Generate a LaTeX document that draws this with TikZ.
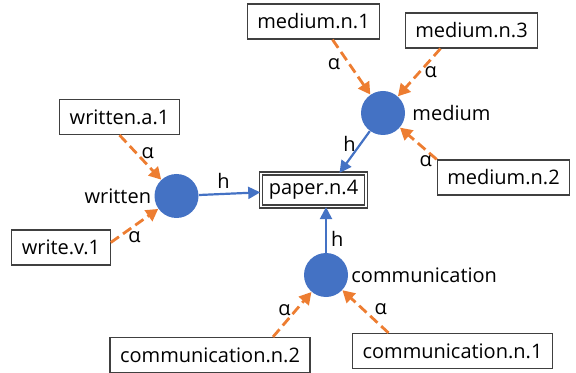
\documentclass[tikz,border=0pt]{standalone}
\usepackage{fontspec}
\setmainfont{Open Sans}
\usetikzlibrary{arrows.meta, positioning}
\definecolor{conceptColor}{RGB}{68,114,196}
\definecolor{alphaColor}{RGB}{237,125,49}
\tikzset{sense/.style={draw=black!75, line width=0.6pt, fill=white, inner xsep=5pt, inner ysep=0pt, minimum height=17.5pt}}
\tikzset{target/.style={sense, double, double distance=0.9pt, inner xsep=4pt, minimum height=16.5pt}}
\tikzset{concept/.style={circle, fill=conceptColor, minimum size=22pt, inner sep=0pt}}
\tikzset{lbl/.style={inner sep=2pt, font=\normalsize}}
\tikzstyle{harrow} = [draw=conceptColor, line width=1.1pt, -{Triangle[length=6pt, width=6pt]}]
\tikzstyle{aarrow} = [draw=alphaColor, line width=1.4pt, dash pattern=on 5pt off 2.5pt, -{Triangle[length=6pt, width=6.5pt]}]

\begin{document}
\begin{tikzpicture}[x=0.5pt, y=-0.5pt]
	\useasboundingbox (0,0) rectangle (576,373);
	% Nodes
		\node (paper) [target] at (313.5,190) {paper.n.4};
		\node (medium) [concept] at (383,113) {};
		\node (medium-t) [right=0pt of medium] {medium};
		\node (written) [concept] at (176.5,196) {};
		\node (written-t) [left=-2pt of written] {written};
		\node (comm) [concept] at (326,275) {};
		\node (comm-t) [right=-2pt of comm] {communication};
		\node (mn1) [sense] at (313.5,21.5) {medium.n.1};
		\node (mn3) [sense] at (471.5,30.5) {medium.n.3};
		\node (mn2) [sense] at (503.5,177.5) {medium.n.2};
		\node (wa1) [sense] at (119.5,117) {written.a.1};
		\node (wv1) [sense] at (61,247.5) {write.v.1};
		\node (cn1) [sense] at (452.5,351) {communication.n.1};
		\node (cn2) [sense] at (210,355) {communication.n.2};

		% Connectors
		\begin{scope}
			\draw [aarrow] ([xshift=9.5pt]mn1.south) -- node[lbl, pos=0.45, left=2pt] {α} (medium);
			\draw [aarrow] ([xshift=-15.5pt]mn3.south) -- node[lbl, pos=0.5, right] {α} (medium);
			\draw [aarrow] (mn2.north west) -- node[lbl, pos=0.3, below] {α} (medium);
			\draw [aarrow] (wa1.south) -- node[lbl, pos=0.4, right] {α} (written);
			\draw [aarrow] ([yshift=2.5pt]wv1.east) -- node[lbl, pos=0.5, below] {α} (written);
			\draw [aarrow] ([xshift=-32pt]cn1.north) -- node[lbl, pos=0.55, right=3pt] {α} (comm);
			\draw [aarrow] ([xshift=31.5pt]cn2.north) -- node[lbl, pos=0.6, left] {α} (comm);
			\draw [harrow] (written) -- node[lbl, pos=0.4, above] {h} (paper);
			\draw [harrow] (medium) -- node[lbl, pos=0.3, left] {h} ([xshift=13pt]paper.north);
			\draw [harrow] (comm) -- node[lbl, pos=0.3, right] {h} (comm |- paper.south);
		\end{scope}
\end{tikzpicture}
\end{document}
